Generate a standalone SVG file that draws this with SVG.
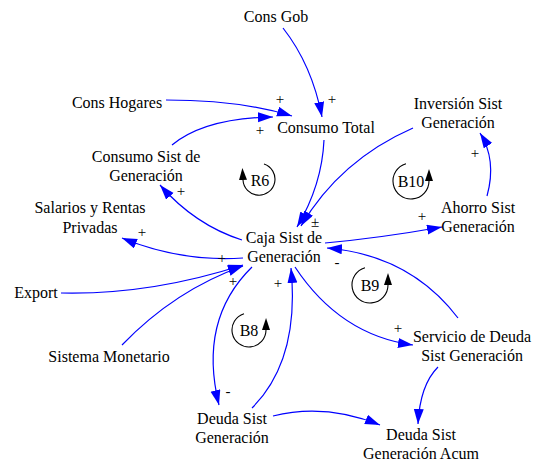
<svg xmlns="http://www.w3.org/2000/svg" width="536" height="462" viewBox="0 0 536 462" font-family="'Liberation Serif', 'DejaVu Serif', serif">
<style>
text{font-family:'Liberation Serif','DejaVu Serif',serif;font-size:16px;fill:#000}
.n text{text-anchor:middle}
.p{text-anchor:middle;font-size:15px}
.c path{fill:none;stroke:#0000FF;stroke-width:1.2;marker-end:url(#ah)}
.loop path{fill:none;stroke:#000;stroke-width:1.1;marker-end:url(#lh)}
.loop text{text-anchor:middle}
</style>
<defs>
<marker id="ah" markerUnits="userSpaceOnUse" markerWidth="16" markerHeight="11" refX="15" refY="5" orient="auto"><path d="M0,0 L15,5 L0,10 z" fill="#0000FF"/></marker>
<marker id="lh" markerUnits="userSpaceOnUse" markerWidth="13" markerHeight="9" refX="0" refY="4" orient="auto"><path d="M0,0 L12,4 L0,8 z" fill="#000"/></marker>
</defs>
<rect width="536" height="462" fill="#fff"/>
<g class="c" id="connectors">
<path d="M283,28 Q312,65 322,117"/>
<path d="M166,100 Q240,100 292,116"/>
<path d="M172,145 Q205,118 273,117"/>
<path d="M324,140 Q322,185 297,227"/>
<path d="M413,128 Q340,160 301,226"/>
<path d="M487,196 Q497,160 480,133"/>
<path d="M325,243 Q380,238 442,227"/>
<path d="M458,318 Q410,255 327,248"/>
<path d="M295,267 Q340,335 413,345"/>
<path d="M438,367 Q420,385 418,424"/>
<path d="M273,416 Q325,403 380,425"/>
<path d="M252,408 Q300,360 291,268"/>
<path d="M252,267 Q198,320 219,405"/>
<path d="M243,258 Q180,262 122,238"/>
<path d="M61,293 Q150,295 243,265"/>
<path d="M122,345 Q175,290 243,266"/>
<path d="M242,240 Q195,225 160,185"/>
</g>
<g id="polarities">
<text class="p" x="332" y="104">+</text>
<text class="p" x="280" y="104">+</text>
<text class="p" x="260" y="135">+</text>
<text class="p" x="181" y="196">+</text>
<text class="p" x="142" y="237">+</text>
<text class="p" x="222" y="263">+</text>
<text class="p" x="233" y="286">+</text>
<text class="p" x="278" y="288">+</text>
<text class="p" x="228" y="396">-</text>
<text class="p" x="315" y="227">±</text>
<text class="p" x="422" y="221">+</text>
<text class="p" x="475" y="158">+</text>
<text class="p" x="337" y="267">-</text>
<text class="p" x="398" y="333">+</text>
</g>
<g class="loop" id="loop-R6"><path d="M264,164 A16,16 0 1 1 243,180"/><text x="260" y="186">R6</text></g>
<g class="loop" id="loop-B10"><path d="M406,163.7 A18,18 0 1 0 429,181"/><text x="411" y="187">B10</text></g>
<g class="loop" id="loop-B9"><path d="M365,267.7 A18,18 0 1 0 388,285"/><text x="370" y="291">B9</text></g>
<g class="loop" id="loop-B8"><path d="M244,313.7 A17,17 0 1 0 266,330"/><text x="249" y="336">B8</text></g>
<g class="n" id="cons-gob"><text x="276" y="22">Cons Gob</text></g>
<g class="n" id="cons-hogares"><text x="117" y="108">Cons Hogares</text></g>
<g class="n" id="consumo-total"><text x="326" y="133">Consumo Total</text></g>
<g class="n" id="consumo-sist"><text x="146" y="162">Consumo Sist de</text><text x="146" y="181">Generación</text></g>
<g class="n" id="salarios"><text x="90" y="213">Salarios y Rentas</text><text x="90" y="233">Privadas</text></g>
<g class="n" id="caja"><text x="284" y="243">Caja Sist de</text><text x="284" y="262">Generación</text></g>
<g class="n" id="export"><text x="36" y="298">Export</text></g>
<g class="n" id="sistema-monetario"><text x="109" y="362">Sistema Monetario</text></g>
<g class="n" id="deuda"><text x="232" y="424">Deuda Sist</text><text x="232" y="443">Generación</text></g>
<g class="n" id="servicio"><text x="472" y="342">Servicio de Deuda</text><text x="472" y="361">Sist Generación</text></g>
<g class="n" id="deuda-acum"><text x="421" y="440">Deuda Sist</text><text x="421" y="459">Generación Acum</text></g>
<g class="n" id="inversion"><text x="458" y="109">Inversión Sist</text><text x="458" y="128">Generación</text></g>
<g class="n" id="ahorro"><text x="478" y="213">Ahorro Sist</text><text x="478" y="232">Generación</text></g>
</svg>
